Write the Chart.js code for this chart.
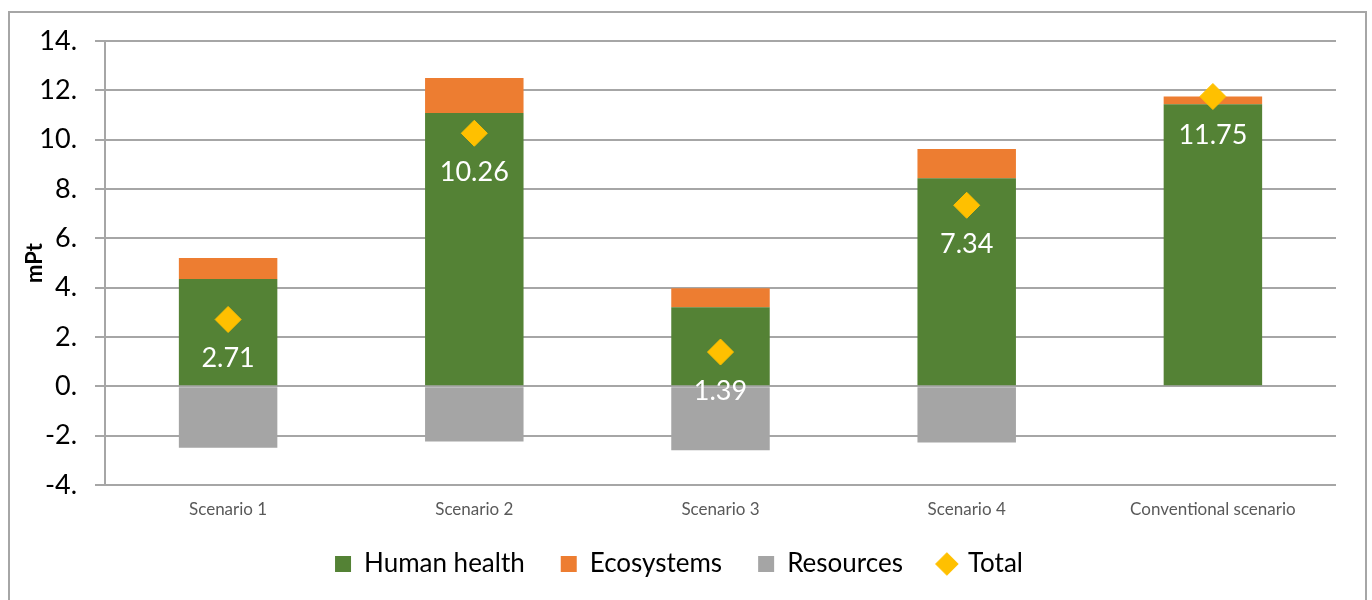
<!DOCTYPE html>
<html>
<head>
<meta charset="utf-8">
<script src="https://cdn.jsdelivr.net/npm/chart.js@4"></script>
<style>
  html, body { margin: 0; padding: 0; background: #fff; }
  #wrap { position: relative; width: 1372px; height: 600px; }
  #frame {
    position: absolute; left: 8px; top: 11px; width: 1359px; height: 600px;
    border: 2px solid #a6a6a6; border-bottom: none; box-sizing: border-box;
    pointer-events: none;
  }
  canvas { position: absolute; left: 0; top: 0; }
</style>
</head>
<body>
<div id="wrap">
  <canvas id="chart" width="1372" height="600"></canvas>
  <div id="frame"></div>
</div>
<script>
  const scenarios = ["Scenario 1", "Scenario 2", "Scenario 3", "Scenario 4", "Conventional scenario"];
  const humanHealth = [4.35, 11.08, 3.21, 8.44, 11.44];
  const ecosystems = [0.85, 1.42, 0.77, 1.18, 0.31];
  const resources = [-2.49, -2.24, -2.59, -2.28, 0];
  const total = [2.71, 10.26, 1.39, 7.34, 11.75];
  const yTicks = [-4, -2, 0, 2, 4, 6, 8, 10, 12, 14];

  const fontFamily = "Lato, 'Open Sans', sans-serif";

  // draws the white total values under each diamond
  const totalLabels = {
    id: "totalLabels",
    beforeLayout(chart) {
      // keep wide gaps between legend items but a short legend box
      const legend = chart.legend;
      if (legend && !legend._patched) {
        const fit = legend.fit;
        legend.fit = function () {
          fit.call(this);
          this.height = 85;
        };
        legend._patched = true;
      }
    },
    afterDatasetsDraw(chart) {
      const meta = chart.getDatasetMeta(3);
      const ctx = chart.ctx;
      ctx.save();
      ctx.fillStyle = "#FFFFFF";
      ctx.font = "27px " + fontFamily;
      ctx.textAlign = "center";
      ctx.textBaseline = "middle";
      meta.data.forEach((pt, i) => {
        ctx.fillText(total[i].toFixed(2), pt.x, pt.y + 39);
      });
      ctx.restore();
    },
  };

  const ctx = document.getElementById("chart").getContext("2d");
  new Chart(ctx, {
    type: "bar",
    data: {
      labels: scenarios,
      datasets: [
        {
          label: "Human health",
          data: humanHealth,
          backgroundColor: "#548235",
          pointStyle: "rect",
          stack: "s",
          order: 2,
        },
        {
          label: "Ecosystems",
          data: ecosystems,
          backgroundColor: "#ED7D31",
          pointStyle: "rect",
          stack: "s",
          order: 2,
        },
        {
          label: "Resources",
          data: resources,
          backgroundColor: "#A5A5A5",
          pointStyle: "rect",
          stack: "s",
          order: 2,
        },
        {
          type: "line",
          label: "Total",
          data: total,
          showLine: false,
          pointStyle: "rectRot",
          pointRadius: 13,
          pointHoverRadius: 13,
          backgroundColor: "#FFC000",
          borderColor: "#FFC000",
          borderWidth: 1,
          order: 1,
        },
      ],
    },
    options: {
      responsive: false,
      animation: false,
      datasets: {
        bar: {
          categoryPercentage: 1,
          barPercentage: 0.4,
        },
      },
      layout: {
        padding: { left: 22, right: 36, top: 41, bottom: 0 },
      },
      plugins: {
        tooltip: { enabled: false },
        legend: {
          position: "bottom",
          labels: {
            usePointStyle: true,
            boxWidth: 16,
            boxHeight: 16,
            padding: 36,
            color: "#000000",
            font: { family: fontFamily, size: 26 },
            sort: (a, b) => a.datasetIndex - b.datasetIndex,
          },
        },
      },
      scales: {
        x: {
          stacked: true,
          grid: { display: false },
          border: { display: false },
          ticks: {
            color: "#595959",
            padding: 6,
            font: { family: fontFamily, size: 17 },
          },
          afterFit(scale) {
            scale.height = 30;
          },
        },
        y: {
          stacked: true,
          min: -4,
          max: 14,
          afterBuildTicks(scale) {
            scale.ticks = yTicks.map((v) => ({ value: v }));
          },
          ticks: {
            color: "#000000",
            padding: 18,
            font: { family: fontFamily, size: 27 },
            callback: (v) => v + ".",
          },
          grid: {
            color: "#a6a6a6",
            lineWidth: 2,
            tickLength: 10,
          },
          border: { display: true, color: "#a6a6a6", width: 2 },
          title: {
            display: true,
            text: "mPt",
            color: "#000000",
            font: { family: fontFamily, size: 22, weight: "bold" },
            padding: { top: 0, bottom: 0 },
          },
          afterFit(scale) {
            scale.width = 83;
          },
        },
      },
    },
    plugins: [totalLabels],
  });
</script>
</body>
</html>
